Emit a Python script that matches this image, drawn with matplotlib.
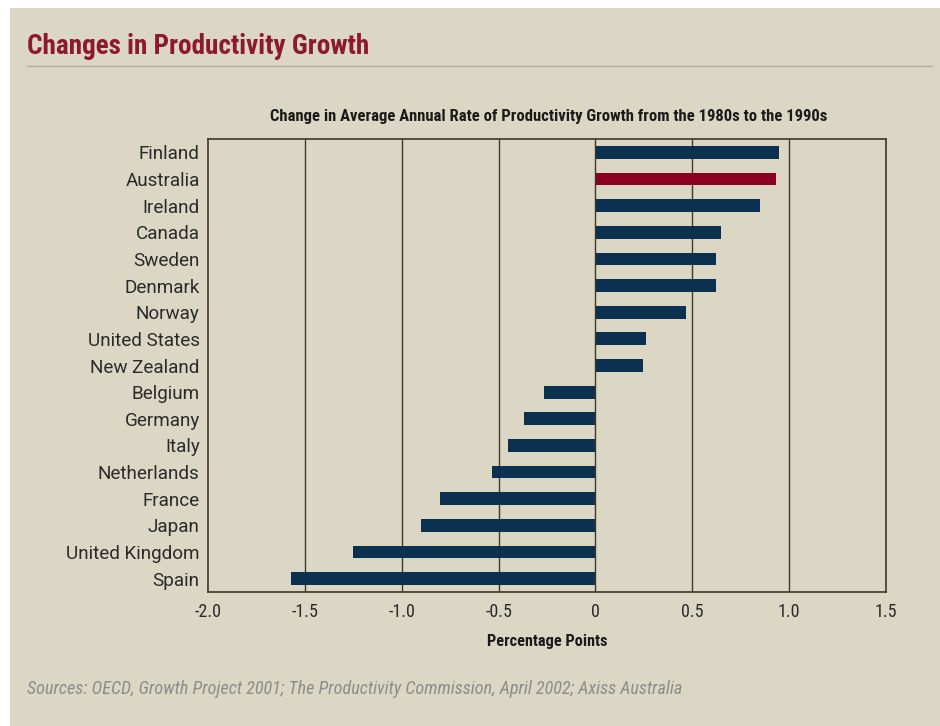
import matplotlib.pyplot as plt
from matplotlib.patches import Rectangle
from matplotlib.lines import Line2D

countries = ["Finland", "Australia", "Ireland", "Canada", "Sweden", "Denmark",
             "Norway", "United States", "New Zealand", "Belgium", "Germany",
             "Italy", "Netherlands", "France", "Japan", "United Kingdom", "Spain"]
change = [0.95, 0.93, 0.85, 0.65, 0.62, 0.625, 0.47, 0.26, 0.245,
          -0.265, -0.37, -0.45, -0.535, -0.80, -0.90, -1.25, -1.57]
highlight = "Australia"
xticks = [-2.0, -1.5, -1.0, -0.5, 0, 0.5, 1.0, 1.5]
xticklabels = ["-2.0", "-1.5", "-1.0", "-0.5", "0", "0.5", "1.0", "1.5"]

BG = "#dcd7c5"
NAVY = "#0b3050"
RED = "#8b0020"
LINE = "#3b3828"
NARROW = ["Roboto Condensed", "DejaVu Sans"]
GOTHIC = ["Roboto", "DejaVu Sans"]

fig = plt.figure(figsize=(9.4, 7.26), dpi=100, facecolor="white")
fig.patches.append(Rectangle((10 / 940, 0), 1, 1 - 8 / 726, transform=fig.transFigure,
                             facecolor=BG, edgecolor="none", zorder=-10))

fig.text(27 / 940, 1 - 47 / 726, "Changes in Productivity Growth", color="#8b1a2b",
         fontsize=19.5, fontweight="bold", family=NARROW, va="center", ha="left")
fig.add_artist(Line2D([27 / 940, 932 / 940], [1 - 66 / 726, 1 - 66 / 726],
                      transform=fig.transFigure, color="#b3ac98", lw=1))
fig.text(549 / 940, 1 - 116 / 726,
         "Change in Average Annual Rate of Productivity Growth from the 1980s to the 1990s",
         fontsize=12, fontweight="bold", family=NARROW, ha="center", va="center",
         color="#1a1a1a")
fig.text(27 / 940, 1 - 689 / 726,
         "Sources: OECD, Growth Project 2001; The Productivity Commission, April 2002; Axiss Australia",
         fontsize=13.1, style="italic", family=NARROW, color="#8c8c88", ha="left", va="center")

ax = fig.add_axes([208 / 940, 1 - 592 / 726, 678 / 940, 453 / 726])
ax.set_facecolor(BG)
ypos = list(range(len(countries)))
colors = [RED if c == highlight else NAVY for c in countries]
ax.barh(ypos, change, height=0.48, color=colors, zorder=3)
ax.set_xlim(-2.0, 1.5)
ax.set_ylim(len(countries) - 0.5, -0.5)
ax.set_yticks(ypos)
ax.set_yticklabels(countries, fontsize=13.6, family=GOTHIC, color="#2a2a2a")
ax.set_xticks(xticks)
ax.set_xticklabels(xticklabels, fontsize=13, family=NARROW, color="#2a2a2a")
ax.tick_params(length=0, pad=6)
ax.tick_params(axis="x", pad=8)
for x in xticks[1:-1]:
    ax.axvline(x, color=LINE, lw=1, zorder=2 if x != 0 else 4)
for s in ax.spines.values():
    s.set_color(LINE)
    s.set_linewidth(1.2)
ax.set_xlabel("Percentage Points", fontsize=11.7, fontweight="bold", family=NARROW,
              color="#1a1a1a", labelpad=9)

fig.savefig("out.png", dpi=100, facecolor=fig.get_facecolor())
